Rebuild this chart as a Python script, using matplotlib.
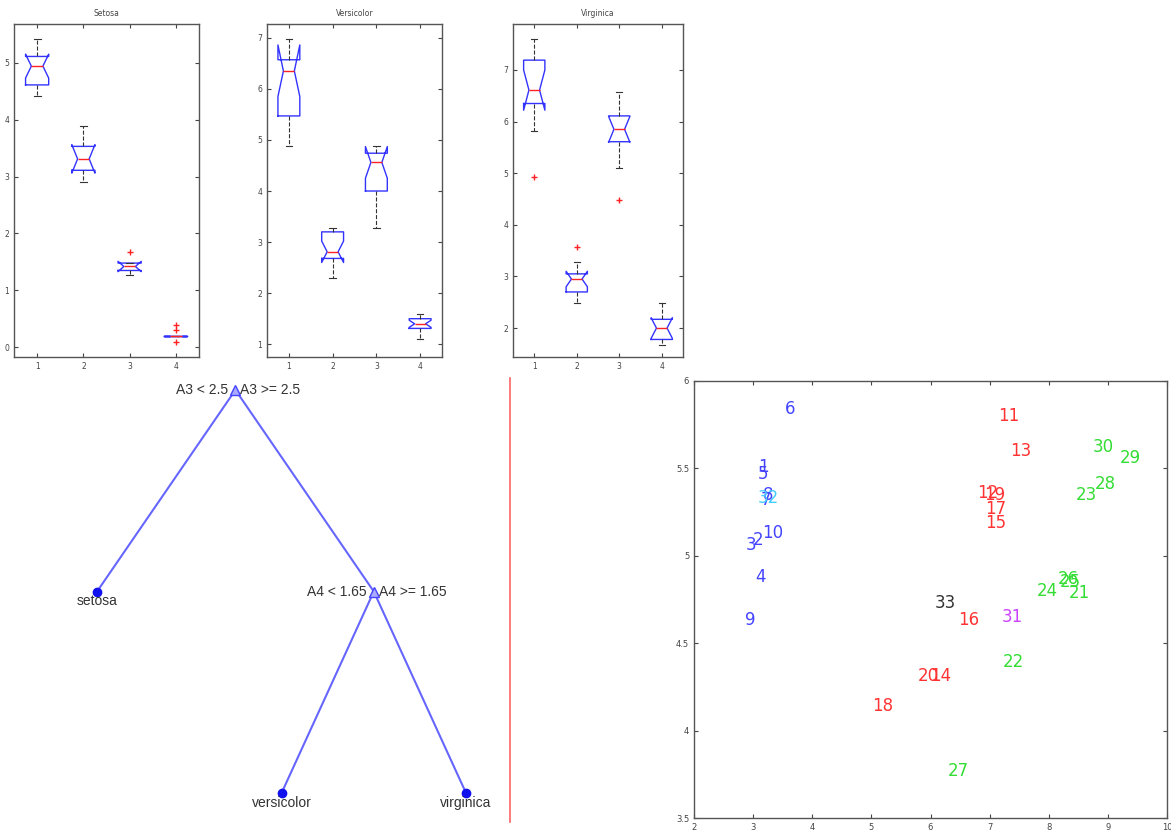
import matplotlib
matplotlib.use("Agg")
import matplotlib.pyplot as plt
from matplotlib.lines import Line2D
import numpy as np

W, H = 1171, 835

# box plot statistics, one row per species, one value per attribute
species = ["Setosa", "Versicolor", "Virginica"]
box_med = [[4.94, 3.31, 1.42, 0.20], [6.35, 2.81, 4.56, 1.40], [6.61, 2.95, 5.85, 2.00]]
box_q1 = [[4.61, 3.11, 1.35, 0.20], [5.47, 2.68, 4.00, 1.31], [6.35, 2.70, 5.61, 1.78]]
box_q3 = [[5.11, 3.53, 1.48, 0.20], [6.57, 3.20, 4.74, 1.50], [7.19, 3.05, 6.11, 2.17]]
box_whislo = [[4.41, 2.90, 1.27, 0.20], [4.89, 2.29, 3.28, 1.10], [5.82, 2.49, 5.11, 1.68]]
box_whishi = [[5.42, 3.89, 1.48, 0.20], [6.97, 3.28, 4.89, 1.60], [7.59, 3.28, 6.58, 2.49]]
box_cilo = [[4.73, 3.06, 1.33, 0.20], [5.85, 2.60, 4.25, 1.33], [6.22, 2.80, 5.60, 1.80]]
box_cihi = [[5.15, 3.56, 1.51, 0.20], [6.86, 3.02, 4.87, 1.47], [7.00, 3.10, 6.10, 2.20]]
box_fliers = [[[], [], [1.67], [0.4, 0.3, 0.1]],
              [[], [], [], []],
              [[4.92], [3.58], [4.48], []]]
box_ylims = [(-0.17, 5.68), (0.75, 7.27), (1.44, 7.89)]
box_yticks = [[0, 1, 2, 3, 4, 5], [1, 2, 3, 4, 5, 6, 7], [2, 3, 4, 5, 6, 7]]

# decision tree: parent of each node, branch labels of split nodes, leaf names
tree_parent = [-1, 0, 0, 2, 2]
split_labels = {0: ("A3 < 2.5", "A3 >= 2.5"), 2: ("A4 < 1.65", "A4 >= 1.65")}
leaf_labels = {1: "setosa", 3: "versicolor", 4: "virginica"}

# numbered points on the scatter
pt_label = ["1", "2", "3", "4", "5", "6", "7", "8", "9", "10",
            "11", "12", "13", "14", "15", "16", "17", "18", "19", "20",
            "21", "22", "23", "24", "25", "26", "27", "28", "29", "30",
            "31", "32", "33"]
pt_x = [3.08, 3.00, 2.88, 3.03, 3.08, 3.54, 3.13, 3.16, 2.86, 3.16,
        7.15, 6.79, 7.35, 6.00, 6.93, 6.47, 6.93, 5.02, 6.91, 5.78,
        8.33, 7.22, 8.46, 7.79, 8.19, 8.16, 6.29, 8.78, 9.20, 8.75,
        7.20, 3.08, 6.07]
pt_y = [5.51, 5.09, 5.06, 4.88, 5.47, 5.84, 5.32, 5.35, 4.63, 5.13,
        5.80, 5.36, 5.60, 4.31, 5.19, 4.63, 5.27, 4.14, 5.35, 4.31,
        4.79, 4.39, 5.35, 4.80, 4.85, 4.87, 3.77, 5.41, 5.56, 5.62,
        4.65, 5.33, 4.73]
pt_group = [0] * 10 + [1] * 10 + [2] * 10 + [3, 4, 5]
group_colors = ["#4444ff", "#ff3333", "#33dd33", "#cc44ff", "#44ccff", "#333333"]

LABEL_FONT = ["Liberation Sans", "DejaVu Sans"]


def px_rect(left, top, right, bottom):
    return [left / W, 1 - bottom / H, (right - left) / W, (bottom - top) / H]


def style_axes(ax, size):
    for s in ax.spines.values():
        s.set_color("#555555")
        s.set_linewidth(1.0)
    ax.tick_params(direction="in", top=True, right=True, length=3,
                   labelsize=size, colors="#444444", width=0.8)


fig = plt.figure(figsize=(W / 100, H / 100), dpi=100)

# three notched box plots
box_px = [(14, 24, 199, 357), (267, 24, 442, 357), (513, 24, 683, 357)]
for i, name in enumerate(species):
    ax = fig.add_axes(px_rect(*box_px[i]))
    stats = []
    for j in range(4):
        stats.append(dict(med=box_med[i][j], q1=box_q1[i][j], q3=box_q3[i][j],
                          whislo=box_whislo[i][j], whishi=box_whishi[i][j],
                          cilo=box_cilo[i][j], cihi=box_cihi[i][j],
                          fliers=box_fliers[i][j]))
    ax.bxp(stats, positions=[1, 2, 3, 4], widths=0.5, capwidths=0.15,
           shownotches=True,
           boxprops=dict(color="#3333ff", linewidth=1.0),
           medianprops=dict(color="#ff2222", linewidth=1.0),
           whiskerprops=dict(color="#333333", linestyle="--", linewidth=0.8),
           capprops=dict(color="#333333", linewidth=0.8),
           flierprops=dict(marker="+", markeredgecolor="#ff2222",
                           markersize=5, linestyle="none"))
    ax.set_xlim(0.5, 4.5)
    ax.set_ylim(*box_ylims[i])
    ax.set_yticks(box_yticks[i])
    ax.set_xticks([1, 2, 3, 4])
    style_axes(ax, 5.5)
    ax.set_title(name, fontsize=5.5, color="#444444", pad=6)

# decision tree
ax_t = fig.add_axes(px_rect(0, 370, 500, 835))
ax_t.set_axis_off()
n = len(tree_parent)
children = {k: [c for c in range(n) if tree_parent[c] == k] for k in range(n)}
depth = [0] * n
for k in range(1, n):
    depth[k] = depth[tree_parent[k]] + 1
node_x = [0.0] * n
leaf_order = [k for k in range(n) if not children[k]]
for rank, k in enumerate(leaf_order):
    node_x[k] = rank + 1


def place(k):
    if children[k]:
        node_x[k] = np.mean([place(c) for c in children[k]])
    return node_x[k]


place(0)
for k in range(1, n):
    p = tree_parent[k]
    ax_t.plot([node_x[p], node_x[k]], [depth[p], depth[k]], color="#6666ff", lw=1.5, zorder=1)
for k in range(n):
    if children[k]:
        ax_t.plot(node_x[k], depth[k], marker="^", ms=7, mfc="#aaaaff", mec="#4444ff", zorder=2)
        lo, hi = split_labels[k]
        ax_t.annotate(lo, (node_x[k], depth[k]), xytext=(-5, 0), textcoords="offset points",
                      ha="right", va="center", fontsize=10, color="#333333", family=LABEL_FONT)
        ax_t.annotate(hi, (node_x[k], depth[k]), xytext=(3.5, 0), textcoords="offset points",
                      ha="left", va="center", fontsize=10, color="#333333", family=LABEL_FONT)
    else:
        ax_t.plot(node_x[k], depth[k], marker="o", ms=6, color="#1111ee", zorder=2)
        ax_t.annotate(leaf_labels[k], (node_x[k], depth[k]), xytext=(0, -7),
                      textcoords="offset points", ha="center", va="center",
                      fontsize=10, color="#333333", family=LABEL_FONT)
ax_t.set_xlim(0.474, 3.184)
ax_t.set_ylim(2.208, -0.099)

# red separator
fig.add_artist(Line2D([510 / W, 510 / W], [1 - 822 / H, 1 - 378 / H], color="#ff6666", lw=1.2))

# numbered scatter
ax_s = fig.add_axes(px_rect(694, 381, 1167, 818))
for lab, x, y, g in zip(pt_label, pt_x, pt_y, pt_group):
    ax_s.text(x, y, lab, color=group_colors[g], fontsize=12, ha="left", va="center")
ax_s.set_xlim(2, 10)
ax_s.set_ylim(3.5, 6)
ax_s.set_xticks(range(2, 11))
ax_s.set_yticks([3.5, 4, 4.5, 5, 5.5, 6])
ax_s.set_yticklabels(["3.5", "4", "4.5", "5", "5.5", "6"])
style_axes(ax_s, 6)

fig.savefig("out.png", dpi=100)
